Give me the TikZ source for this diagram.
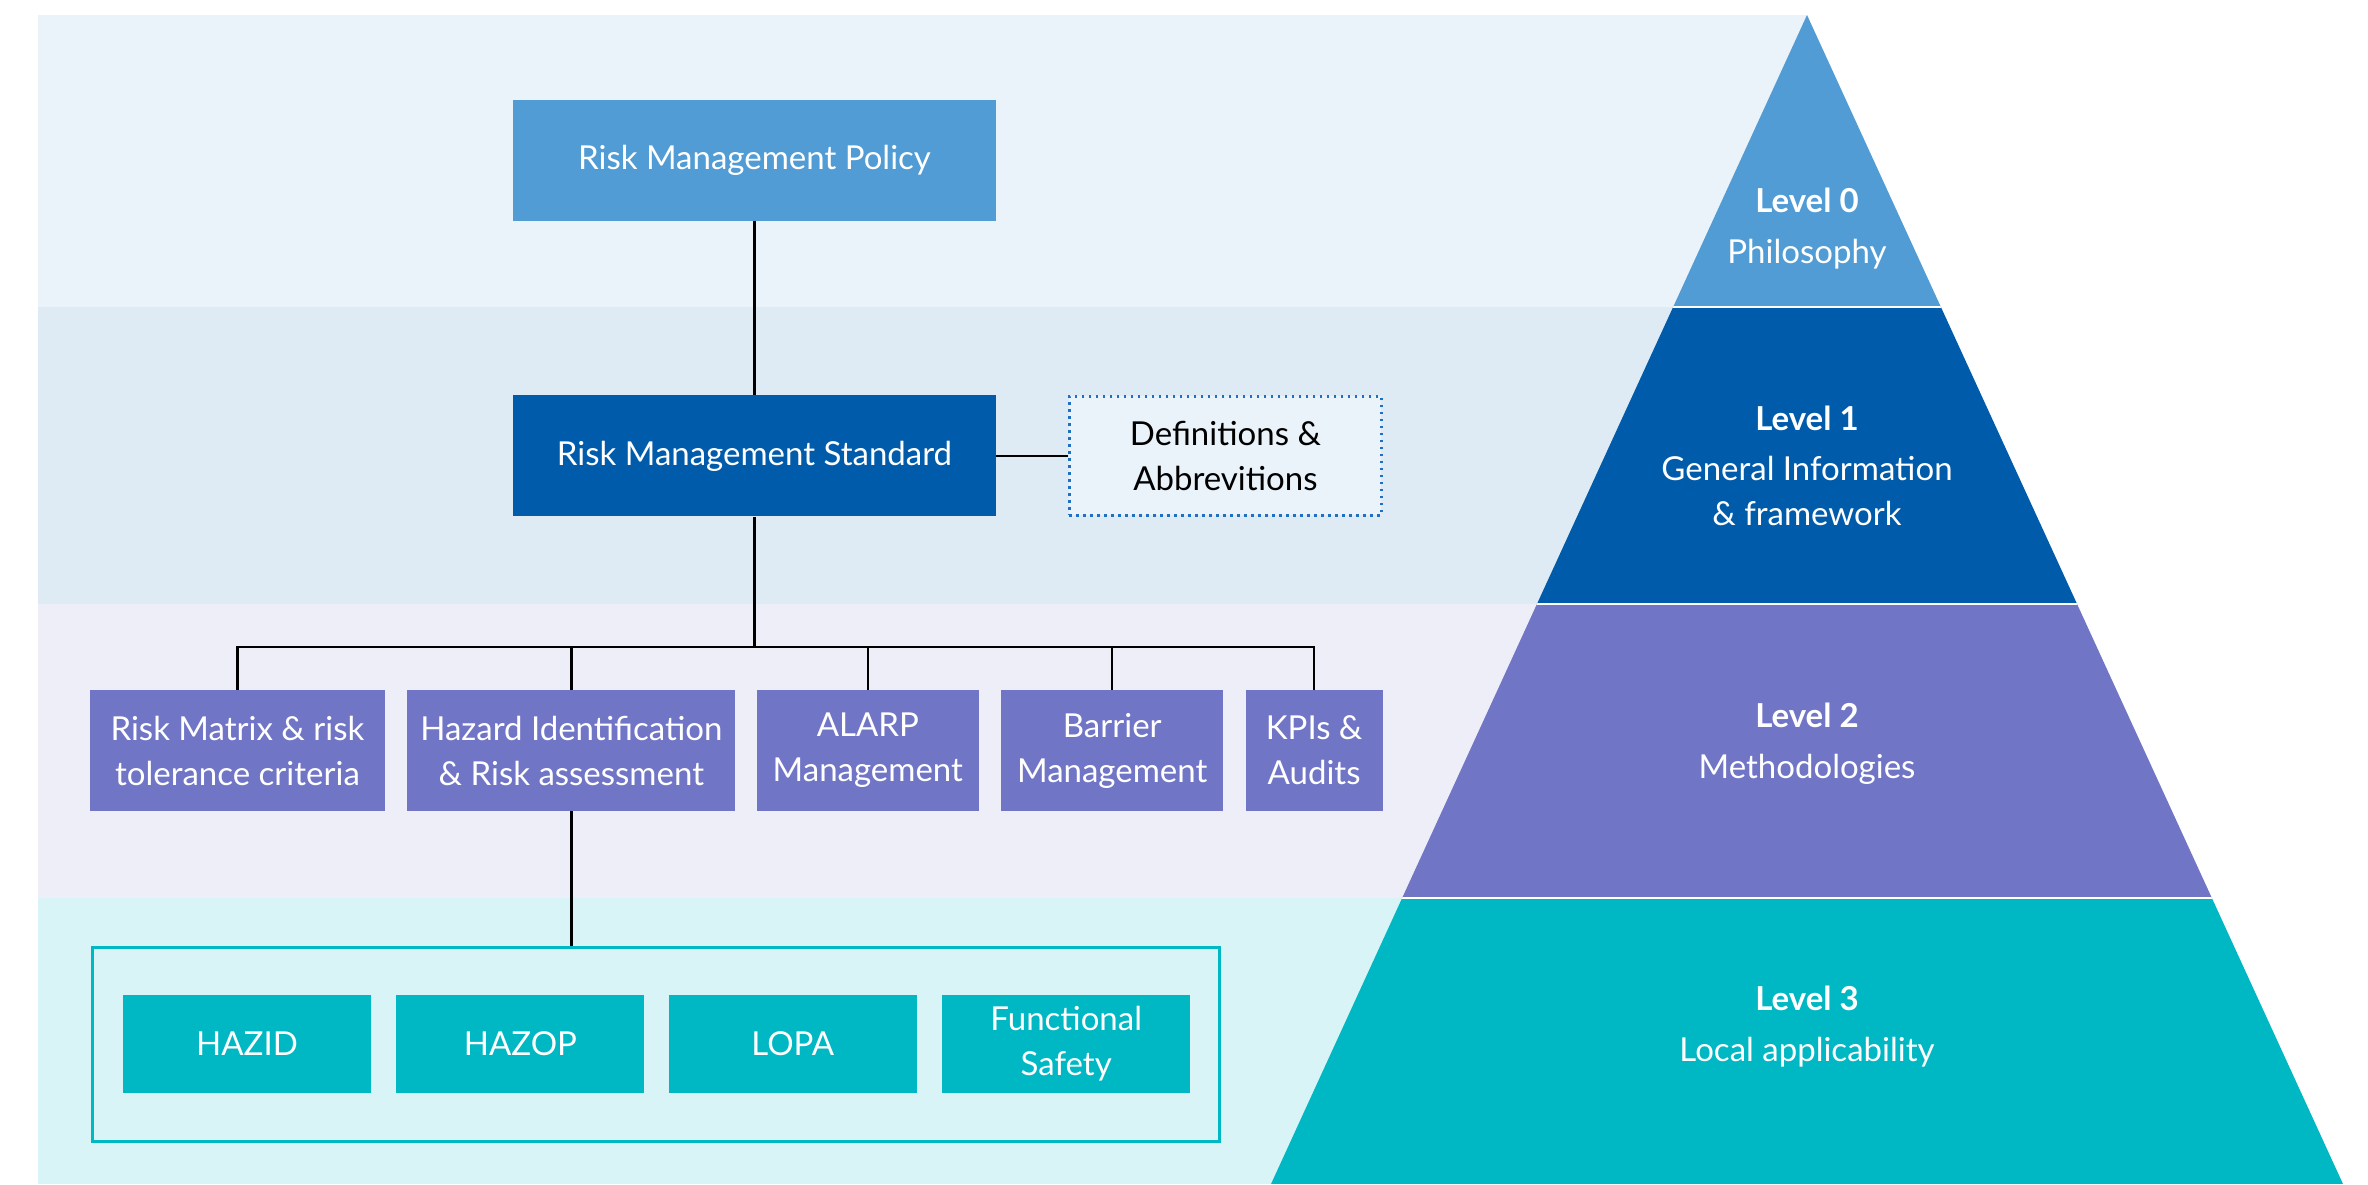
\documentclass[tikz,border=0pt]{standalone}
\usepackage{fontspec}
\setmainfont{Lato}
\usetikzlibrary{positioning}

\definecolor{bandzero}{HTML}{EAF2FA}
\definecolor{bandone}{HTML}{DEEBF5}
\definecolor{bandtwo}{HTML}{EEEEF8}
\definecolor{bandthree}{HTML}{D8F4F6}
\definecolor{levelzero}{HTML}{519CD4}
\definecolor{levelone}{HTML}{005BAA}
\definecolor{leveltwo}{HTML}{7175C6}
\definecolor{levelthree}{HTML}{00B8C4}
\definecolor{dotblue}{HTML}{1F70C1}

\tikzset{
  every node/.style={font=\fontsize{33}{45}\selectfont, inner sep=0pt, align=center},
  box/.style={fill=#1, text=white, minimum height=121pt},
  tool/.style={fill=levelthree, text=white, minimum width=248pt, minimum height=98pt},
  note/.style={fill=bandzero, draw=dotblue, line width=2.5pt, dash pattern=on 2.5pt off 4.5pt,
    minimum width=312pt, minimum height=119pt},
  link/.style={draw=black, line width=2.2pt},
  leveltext/.style={text=white},
}

\begin{document}
\begin{tikzpicture}[x=1pt,y=-1pt]
  \useasboundingbox (0,0) rectangle (2368,1184);

  % background bands and the pyramid
  \foreach \ya/\yb/\c in {15/307/bandzero,307/604/bandone,604/898/bandtwo,898/1184/bandthree}
    \fill[\c] (38,\ya) rectangle (1807,\yb);

  \coordinate (apex) at (1807,15);
  \coordinate (bl) at (1271,1184);
  \coordinate (br) at (2343,1184);
  \begin{scope}
    \clip (apex) -- (bl) -- (br) -- cycle;
    \foreach \ya/\yb/\c in {15/307/levelzero,307/604/levelone,604/898/leveltwo,898/1184/levelthree}
      \fill[\c] (1200,\ya) rectangle (2400,\yb);
    \foreach \y in {307,604,898}
      \draw[white, line width=2.5pt] (1200,\y) -- (2400,\y);
  \end{scope}

  \node[leveltext] (lvl0) at (1807,229) {\textbf{Level 0}\\[6pt]Philosophy};
  \node[leveltext] (lvl1) at (1807,466) {\textbf{Level 1}\\[5pt]General Information\\\& framework};
  \node[leveltext] (lvl2) at (1807,744) {\textbf{Level 2}\\[6pt]Methodologies};
  \node[leveltext] (lvl3) at (1807,1027) {\textbf{Level 3}\\[6pt]Local applicability};

  % documents
  \node[box=levelzero, minimum width=483pt] (policy) at (754.5,160.5) {Risk Management Policy};
  \node[box=levelone, minimum width=483pt, below=174pt of policy] (standard) {Risk Management Standard};
  \node[note, right=72pt of standard] (defs) {Definitions \&\\Abbrevitions};

  \node[box=leveltwo, minimum width=295pt] (m1) at (237.5,750.5) {Risk Matrix \& risk\\tolerance criteria};
  \node[box=leveltwo, minimum width=328pt, right=22pt of m1] (m2) {Hazard Identification\\\& Risk assessment};
  \node[box=leveltwo, minimum width=222pt, right=21pt of m2] (m3) {ALARP\\Management};
  \node[box=leveltwo, minimum width=222pt, right=22pt of m3] (m4) {Barrier\\Management};
  \node[box=leveltwo, minimum width=137pt, right=22pt of m4] (m5) {KPIs \&\\Audits};

  \node[draw=levelthree, line width=3pt, minimum width=1127pt, minimum height=194pt] (frame) at (656,1044.5) {};
  \node[tool] (hazid) at (247,1044) {HAZID};
  \node[tool, right=25pt of hazid] (hazop) {HAZOP};
  \node[tool, right=24pt of hazop] (lopa) {LOPA};
  \node[tool, right=25pt of lopa] (fs) {Functional\\Safety};

  % connectors
  \coordinate (bus) at (0,647);
  \draw[link] (policy) -- (standard);
  \draw[link] (standard) -- (defs);
  \draw[link] (standard) -- (standard |- bus);
  \draw[link] (m1) |- (bus -| m5) -- (m5);
  \foreach \n in {m2,m3,m4}
    \draw[link] (\n) -- (\n |- bus);
  \draw[link] (m2) -- (m2 |- frame.north);
\end{tikzpicture}
\end{document}
